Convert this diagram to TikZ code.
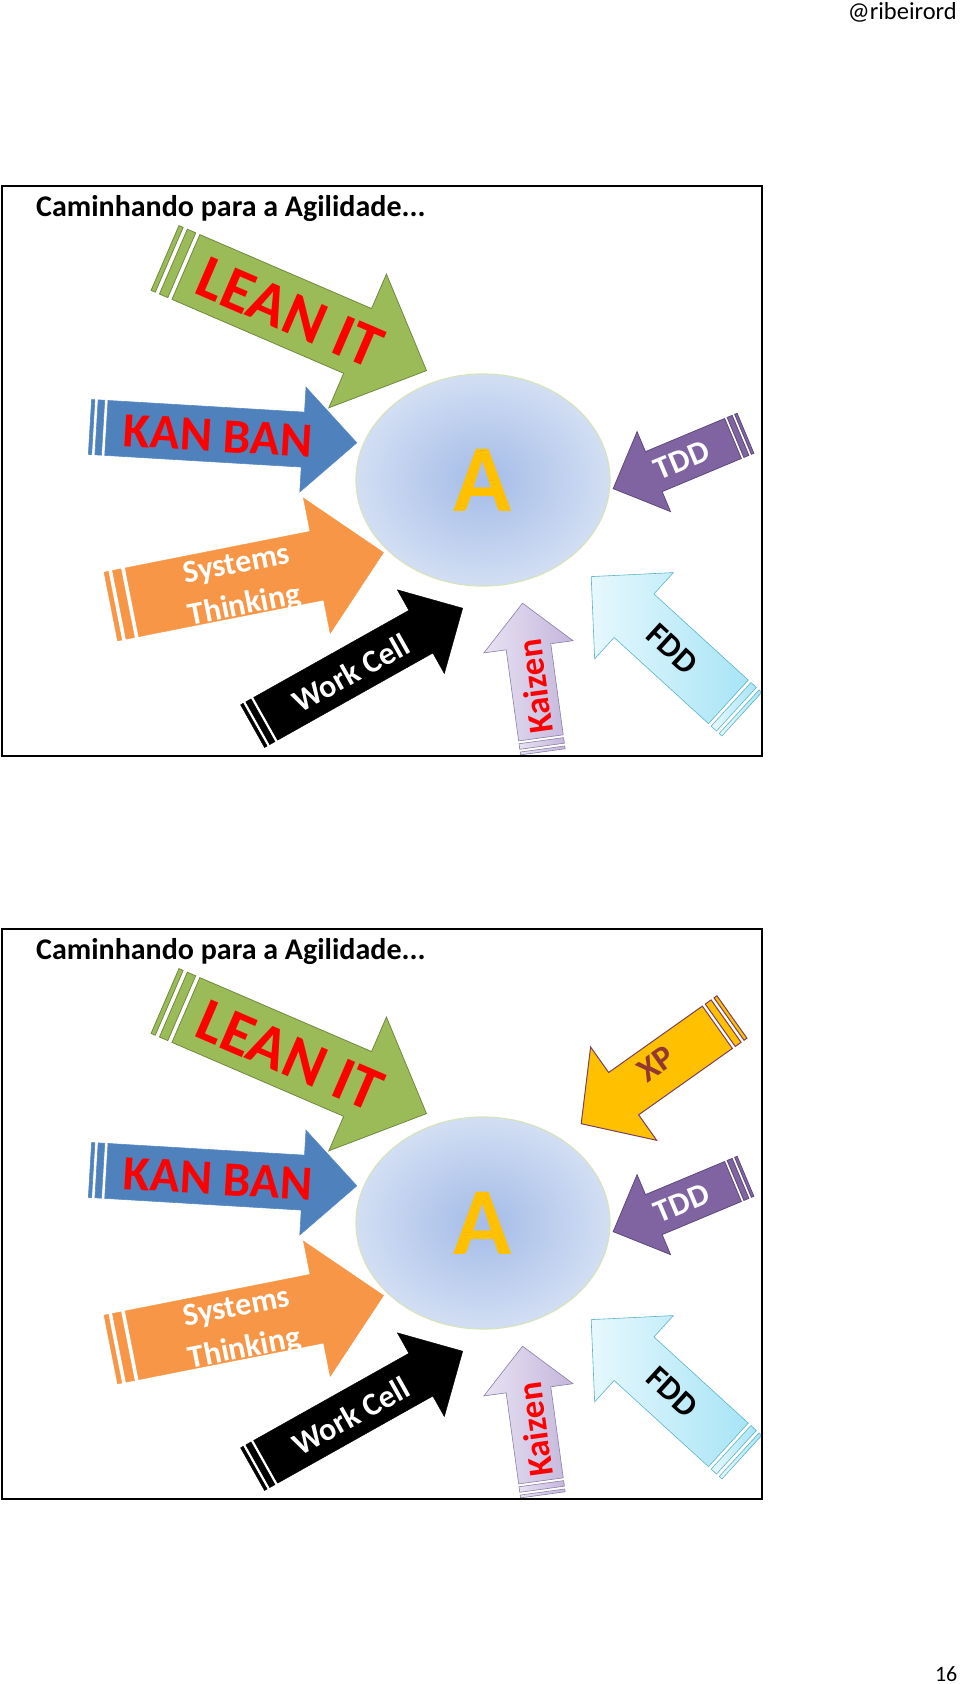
\documentclass[tikz,border=0pt]{standalone}
\usepackage{fontspec}
\setmainfont{Carlito}
\usetikzlibrary{shapes.geometric}
\definecolor{leangreen}{HTML}{9BBB59}
\definecolor{leanedge}{HTML}{71893F}
\definecolor{kanblue}{HTML}{4F81BD}
\definecolor{kanedge}{HTML}{5A8AC4}
\definecolor{systorange}{HTML}{F79646}
\definecolor{kaizleft}{HTML}{E8E2F3}
\definecolor{kaizright}{HTML}{C4B6DC}
\definecolor{kaizedge}{HTML}{8A80A6}
\definecolor{tddpurple}{HTML}{8064A2}
\definecolor{tddedge}{HTML}{5E4A7A}
\definecolor{fddleft}{HTML}{E6F8FD}
\definecolor{fddright}{HTML}{A8E4F6}
\definecolor{fddedge}{HTML}{5CB4C8}
\definecolor{xpgold}{HTML}{FFC000}
\definecolor{xpedge}{HTML}{7A4060}
\definecolor{xptext}{HTML}{943634}
\definecolor{ringin}{HTML}{A4BCE8}
\definecolor{ringout}{HTML}{D2DEF3}
\definecolor{ringedge}{HTML}{D6E3BC}
\definecolor{agilegold}{HTML}{FFC000}

\begin{document}
\begin{tikzpicture}[
  x=1pt, y=-1pt,
  slideframe/.style={draw=black, line width=1.6pt},
  arrowtext/.style={inner sep=0pt, align=center, font=\bfseries\fontsize{#1}{#1}\selectfont},
  leanarrow/.style={fill=leangreen, draw=leanedge, line width=0.8pt},
  kanarrow/.style={fill=kanblue, draw=kanedge, line width=0.6pt},
  systarrow/.style={fill=systorange, draw=systorange, line width=0.4pt},
  workarrow/.style={fill=black, draw=black, line width=0.4pt},
  kaizarrow/.style={left color=kaizleft, right color=kaizright, draw=kaizedge, line width=0.6pt},
  tddarrow/.style={fill=tddpurple, draw=tddedge, line width=0.8pt},
  fddarrow/.style={left color=fddleft, right color=fddright, draw=fddedge, line width=0.6pt},
  xparrow/.style={fill=xpgold, draw=xpedge, line width=1pt},
  % striped arrow: length/head width/shaft width/head length, tip at origin
  pics/striped/.style args={#1/#2/#3/#4}{code={
    \path[pic actions] (-#1,-#3/2) rectangle ++(#2/32,#3);
    \path[pic actions] (-#1+#2/16,-#3/2) rectangle ++(#2/16,#3);
    \path[pic actions] (-#1+5*#2/32,-#3/2) -- (-#4,-#3/2) -- (-#4,-#2/2) -- (0,0)
      -- (-#4,#2/2) -- (-#4,#3/2) -- (-#1+5*#2/32,#3/2) -- cycle;
  }}
]
\fill[white] (0,0) rectangle (960,1684);
\useasboundingbox (0,0) rectangle (960,1684);

\node[anchor=base east, inner sep=0pt, font=\fontsize{24.5}{24.5}\selectfont] (handle) at (957,19.5) {@ribeirord};
\node[anchor=base east, inner sep=0pt, font=\fontsize{22}{22}\selectfont] (pagenum) at (957.5,1681.5) {16};

\foreach \s/\dy in {1/0,2/743}{
\begin{scope}[shift={(0,\dy)}]
  \begin{scope}
    \clip (2,186) rectangle (762,756);
    \node[anchor=base west, inner sep=0pt, font=\bfseries\fontsize{30}{30}\selectfont] (title\s) at (36,216.7) {Caminhando para a Agilidade...};

    \node[ellipse, draw=ringedge, line width=1.2pt, inner color=ringin, outer color=ringout,
          minimum width=254pt, minimum height=212pt, inner sep=0pt,
          text=agilegold, font=\bfseries\fontsize{96}{96}\selectfont] (agile\s) at (483,480) {A};

    \pic[leanarrow, rotate=-23.3] at (426.5,370.6) {striped=284.7/145.6/70.5/75};
    \node[arrowtext=62, text=red, rotate=-23.3] (lean\s) at (290,313) {LEAN IT};

    \pic[kanarrow, rotate=-3.4] at (356.8,442.8) {striped=267.3/105/55/54};
    \node[arrowtext=49, text=red, rotate=-3.4] (kanban\s) at (218,436) {KAN BAN};

    \pic[systarrow, rotate=11.2] at (383.5,552.5) {striped=278/138/70/68};
    \node[arrowtext=32, font=\bfseries\fontsize{32}{42}\selectfont, text=white, rotate=11.2] (systems\s) at (241,586) {Systems\\Thinking};

    \pic[workarrow, rotate=29.3] at (462.7,608.2) {striped=241/96/49/48};
    \node[arrowtext=32, text=white, rotate=29.3] (workcell\s) at (351,673) {Work Cell};

    \pic[kaizarrow, rotate=97.8] at (522.5,603.2) {striped=150/90/45/44};
    \node[arrowtext=35, text=red, rotate=97.8] (kaizen\s) at (535,686.7) {Kaizen};

    \pic[tddarrow, rotate=-157.3] at (613.2,488.6) {striped=143.4/86.6/43.3/44};
    \node[arrowtext=32, text=white, rotate=22.7] (tdd\s) at (681.7,460) {TDD};

    \pic[fddarrow, rotate=137.6] at (591.2,576.6) {striped=204/116.8/59/58};
    \node[arrowtext=33, text=black, rotate=-42.4] (fdd\s) at (672.3,649) {FDD};

    \ifnum\s=2
      \pic[xparrow, rotate=-144.7] at (581.2,380.7) {striped=184.7/114.3/51.9/52};
      \node[arrowtext=34, text=xptext, rotate=35.3] (xp\s) at (656,321) {XP};
    \fi
  \end{scope}
  \draw[slideframe] (2,186) rectangle (762,756);
\end{scope}
}
\end{tikzpicture}
\end{document}
